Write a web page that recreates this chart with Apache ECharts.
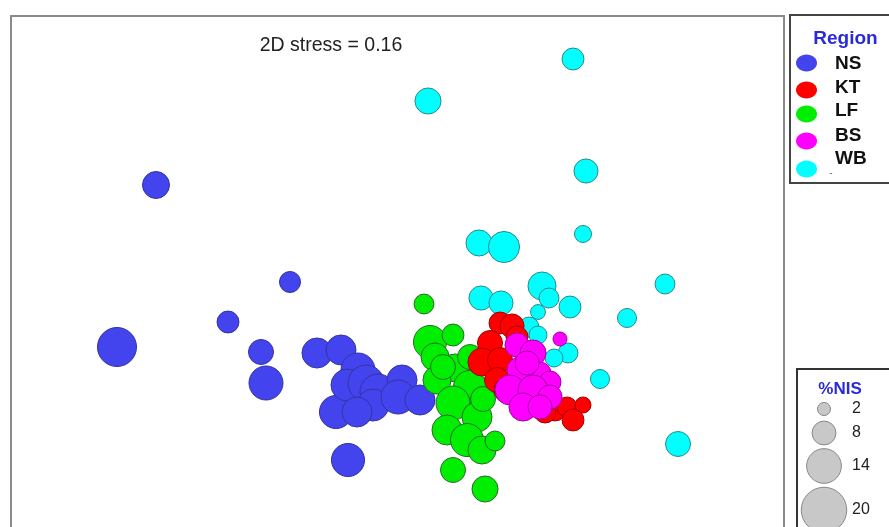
<!DOCTYPE html>
<html>
<head>
<meta charset="utf-8">
<title>nMDS ordination by region</title>
<script src="https://cdn.jsdelivr.net/npm/echarts@6/dist/echarts.min.js"></script>
<style>
  html, body { margin: 0; padding: 0; background: #fff; }
  #chart { width: 889px; height: 527px; }
</style>
</head>
<body>
<div id="chart"></div>
<script>
// nMDS ordination scores: [axis 1, axis 2, %NIS]
const regionNames = ['NS', 'KT', 'LF', 'BS', 'WB'];
const regionColors = ['#4444ee', '#ff0000', '#00ee00', '#ff00ff', '#00ffff'];
const regionBorders = ['#3333a0', '#a00000', '#2a6a2a', '#a000a0', '#2a8a8a'];

const nsPoints = [
  [-1.22, 0.575, 9.7], [-1.415, -0.235, 16.4], [-0.55, 0.09, 6.4], [-0.86, -0.11, 6.9],
  [-0.695, -0.26, 8.6], [-0.67, -0.415, 13.6], [-0.26, -0.8, 13.1], [-0.415, -0.265, 11.4],
  [-0.295, -0.25, 11.4], [-0.32, -0.56, 13.1], [-0.21, -0.35, 13.6], [-0.265, -0.425, 12.5],
  [-0.17, -0.415, 14.7], [-0.11, -0.46, 14.7], [-0.135, -0.525, 12.5], [0.01, -0.40, 11.4],
  [-0.01, -0.485, 13.6], [0.10, -0.50, 11.4], [-0.215, -0.56, 11.4]
];
const ktPoints = [
  [0.50, -0.115, 6.9], [0.56, -0.13, 8.1], [0.45, -0.215, 8.6], [0.41, -0.31, 10.3],
  [0.50, -0.30, 8.6], [0.485, -0.40, 8.6], [0.535, -0.45, 9.2], [0.585, -0.185, 6.9],
  [0.775, -0.55, 6.9], [0.835, -0.535, 5.8], [0.915, -0.525, 3.6], [0.865, -0.60, 6.9],
  [0.725, -0.56, 6.9]
];
const lfPoints = [
  [0.12, -0.02, 5.8], [0.15, -0.21, 13.1], [0.265, -0.175, 6.9], [0.175, -0.285, 10.3],
  [0.275, -0.34, 10.3], [0.35, -0.285, 8.6], [0.185, -0.40, 10.3], [0.35, -0.435, 13.1],
  [0.265, -0.515, 13.6], [0.385, -0.585, 11.4], [0.235, -0.65, 11.4], [0.335, -0.70, 13.1],
  [0.41, -0.75, 10.3], [0.475, -0.705, 5.8], [0.265, -0.85, 8.6], [0.425, -0.945, 9.2],
  [0.415, -0.495, 8.6], [0.215, -0.335, 8.6]
];
const bsPoints = [
  [0.80, -0.195, 2.5], [0.585, -0.225, 8.1], [0.665, -0.265, 9.2], [0.60, -0.35, 9.2],
  [0.70, -0.365, 6.9], [0.75, -0.41, 6.9], [0.55, -0.45, 11.4], [0.665, -0.45, 11.4],
  [0.615, -0.535, 10.3], [0.75, -0.485, 8.1], [0.70, -0.535, 8.1], [0.635, -0.315, 8.1]
];
const wbPoints = [
  [0.865, 1.205, 6.9], [0.14, 0.995, 9.2], [0.93, 0.645, 8.1], [0.915, 0.33, 4.2],
  [0.395, 0.285, 9.2], [0.52, 0.265, 12.0], [1.325, 0.08, 5.8], [0.405, 0.01, 8.1],
  [0.505, -0.015, 8.1], [0.71, 0.07, 10.3], [0.745, 0.01, 5.8], [0.69, -0.06, 3.0],
  [0.85, -0.035, 6.9], [1.135, -0.09, 5.3], [0.645, -0.135, 5.8], [0.69, -0.175, 4.7],
  [0.84, -0.265, 5.8], [0.77, -0.29, 4.7], [1.0, -0.395, 5.3], [1.39, -0.72, 8.6]
];

// %NIS bubble-size key
const nisKeyValues = [2, 8, 14, 20];
const stressLabel = '2D stress = 0.16';

const pointsByRegion = { NS: nsPoints, KT: ktPoints, LF: lfPoints, BS: bsPoints, WB: wbPoints };
// drawing order (later = on top)
const drawOrder = ['WB', 'NS', 'LF', 'KT', 'BS'];

function bubbleDiameter(nis) { return 9.5 + 1.8 * nis; }

const series = drawOrder.map(function (name) {
  const i = regionNames.indexOf(name);
  return {
    name: name,
    type: 'scatter',
    data: pointsByRegion[name],
    symbol: 'circle',
    symbolSize: function (v) { return bubbleDiameter(v[2]); },
    itemStyle: { color: regionColors[i], borderColor: regionBorders[i], borderWidth: 1, opacity: 1 },
    emphasis: { disabled: true },
    clip: false,
    silent: true
  };
});

const graphics = [];
// Region legend box
graphics.push({ type: 'rect', shape: { x: 790, y: 15, width: 120, height: 168 },
  style: { fill: '#fff', stroke: '#444', lineWidth: 2 }, z: 10 });
graphics.push({ type: 'text', x: 845.5, y: 39, z: 11,
  style: { text: 'Region', fill: '#2a2ad8', font: 'bold 19px "Liberation Sans", Arial, sans-serif',
    textAlign: 'center', textVerticalAlign: 'middle' } });
const keyDotY = [63, 90, 114, 141, 169];
const keyTextY = [64, 88, 111, 136, 159];
regionNames.forEach(function (name, i) {
  graphics.push({ type: 'ellipse', z: 11, shape: { cx: 806.5, cy: keyDotY[i], rx: 10.5, ry: 8.5 },
    style: { fill: regionColors[i] } });
  graphics.push({ type: 'text', z: 11, x: 835, y: keyTextY[i],
    style: { text: name, fill: '#111', font: 'bold 19px "Liberation Sans", Arial, sans-serif',
      textAlign: 'left', textVerticalAlign: 'middle' } });
});
graphics.push({ type: 'text', z: 11, x: 831, y: 173,
  style: { text: '-', fill: '#666', font: '10px "Liberation Sans", Arial, sans-serif',
    textAlign: 'center', textVerticalAlign: 'middle' } });

// %NIS key box
graphics.push({ type: 'rect', shape: { x: 797, y: 369, width: 110, height: 200 },
  style: { fill: '#fff', stroke: '#333', lineWidth: 2 }, z: 10 });
graphics.push({ type: 'text', x: 840, y: 389, z: 11,
  style: { text: '%NIS', fill: '#2a2ad8', font: 'bold 17px "Liberation Sans", Arial, sans-serif',
    textAlign: 'center', textVerticalAlign: 'middle' } });
const nisKeyY = [409, 433, 466, 510];
nisKeyValues.forEach(function (v, i) {
  graphics.push({ type: 'circle', z: 11, shape: { cx: 824, cy: nisKeyY[i], r: bubbleDiameter(v) / 2 },
    style: { fill: '#c8c8c8', stroke: '#8a8a8a', lineWidth: 1 } });
  graphics.push({ type: 'text', z: 11, x: 852, y: nisKeyY[i],
    style: { text: String(v), fill: '#222', font: '16px "Liberation Sans", Arial, sans-serif',
      textAlign: 'left', textVerticalAlign: 'middle' } });
});

// stress annotation
graphics.push({ type: 'text', x: 331, y: 46, z: 11,
  style: { text: stressLabel, fill: '#222', font: '19.5px "Liberation Sans", Arial, sans-serif',
    textAlign: 'center', textVerticalAlign: 'middle' } });

const chart = echarts.init(document.getElementById('chart'), null, { renderer: 'canvas' });
chart.setOption({
  animation: false,
  backgroundColor: '#fff',
  grid: { left: 11, top: 16, width: 773, height: 600, show: true, outerBoundsMode: 'none',
    borderColor: '#8a8a8a', borderWidth: 2, backgroundColor: 'transparent' },
  xAxis: { type: 'value', min: -1.945, max: 1.92, show: false },
  yAxis: { type: 'value', min: -1.58, max: 1.42, show: false },
  series: series,
  graphic: graphics
});
</script>
</body>
</html>
